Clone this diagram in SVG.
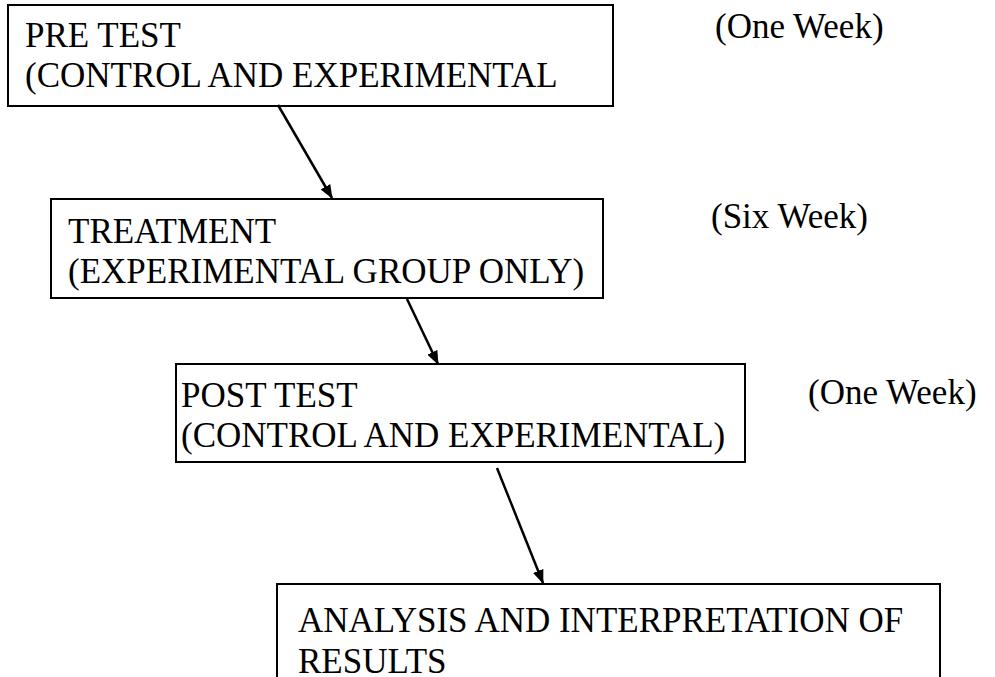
<svg xmlns="http://www.w3.org/2000/svg" width="995" height="677" viewBox="0 0 995 677">
<defs>
<style>
.box{fill:#fff;stroke:#000;stroke-width:2}
.t{font-family:"Liberation Serif","Times New Roman",serif;font-size:35px;fill:#000}
.c{stroke:#000;stroke-width:2.5;fill:none}
</style>
<marker id="ah" viewBox="0 0 14 11" refX="13" refY="5.5" markerWidth="14" markerHeight="11" markerUnits="userSpaceOnUse" orient="auto">
<path d="M0,0 L14,5.5 L0,11 z" fill="#000"/>
</marker>
</defs>
<rect width="995" height="677" fill="#fff"/>
<g id="n1">
<rect class="box" x="8" y="5" width="605" height="101"/>
<text class="t" x="25" y="47">PRE TEST</text>
<text class="t" x="25" y="87">(CONTROL AND EXPERIMENTAL</text>
</g>
<g id="n2">
<rect class="box" x="51" y="199" width="552" height="99"/>
<text class="t" x="68" y="243">TREATMENT</text>
<text class="t" x="68" y="283">(EXPERIMENTAL GROUP ONLY)</text>
</g>
<g id="n3">
<rect class="box" x="176" y="364" width="569" height="98"/>
<text class="t" x="181" y="407">POST TEST</text>
<text class="t" x="181" y="447">(CONTROL AND EXPERIMENTAL)</text>
</g>
<g id="n4">
<rect class="box" x="277" y="584" width="663" height="100"/>
<text class="t" x="298" y="632">ANALYSIS AND INTERPRETATION OF</text>
<text class="t" x="298" y="673">RESULTS</text>
</g>
<g id="labels">
<text class="t" x="715" y="38">(One Week)</text>
<text class="t" x="711" y="228">(Six Week)</text>
<text class="t" x="808" y="404">(One Week)</text>
</g>
<g id="connectors">
<line class="c" x1="278" y1="105" x2="332" y2="198" marker-end="url(#ah)"/>
<line class="c" x1="407" y1="299" x2="438" y2="364" marker-end="url(#ah)"/>
<line class="c" x1="497" y1="468" x2="543" y2="583" marker-end="url(#ah)"/>
</g>
</svg>
